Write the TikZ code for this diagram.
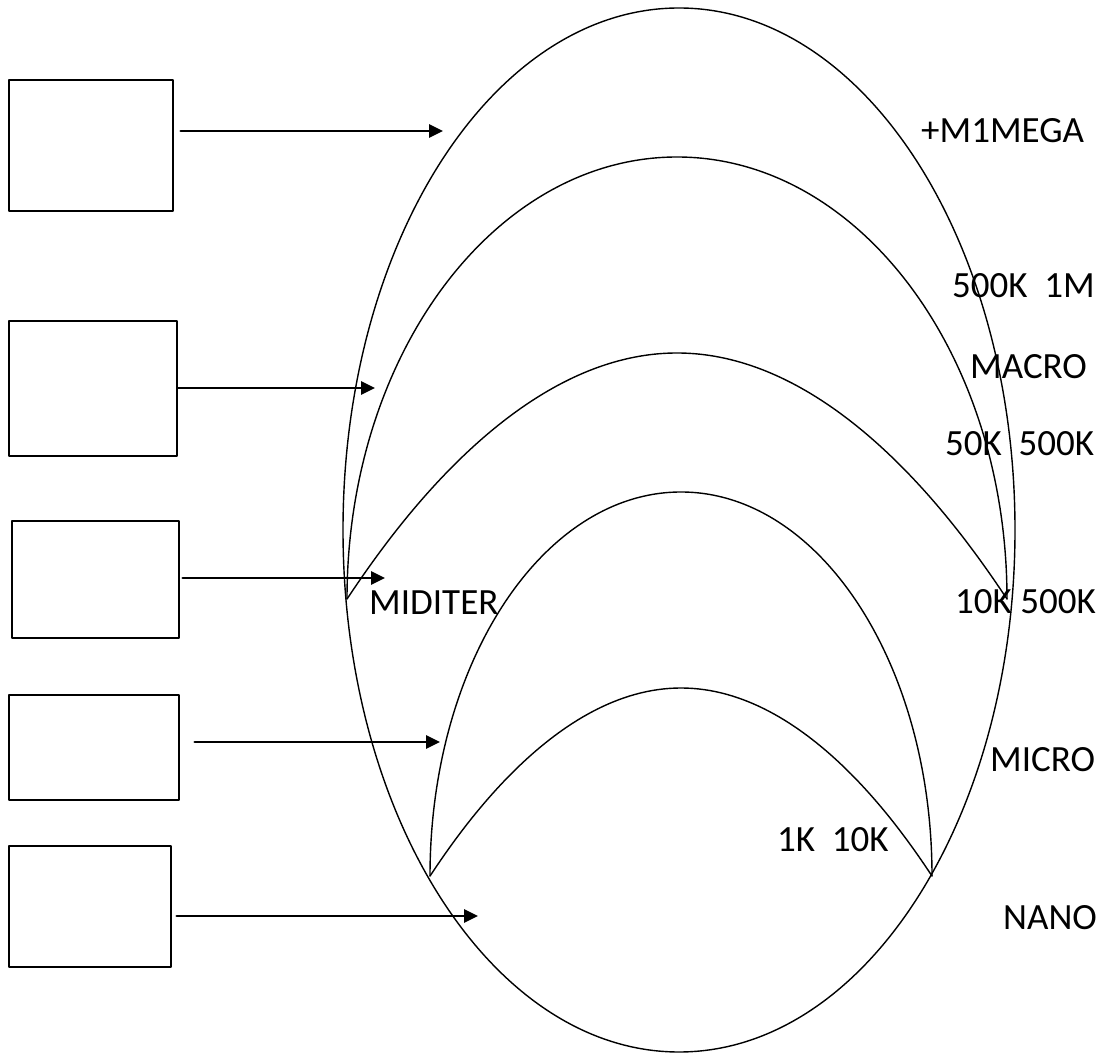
\documentclass[tikz,border=0pt]{standalone}
\usepackage{fontspec}
\setmainfont{Carlito}
\usetikzlibrary{arrows.meta}

\begin{document}
\begin{tikzpicture}[line cap=round,line join=round,>={Triangle[length=14pt,width=13pt]},x=1pt,y=1pt,
	box/.style={draw,line width=1.5pt,inner sep=0pt},
	arr/.style={->,line width=2.8pt},
	lbl/.style={anchor=west,inner sep=0pt,font=\fontsize{37}{44}\selectfont}]
		\useasboundingbox (0,0) rectangle (1106,1055);
		% the nested arcs
		\draw [line width=1.4pt] (679,525) ellipse [x radius=336,y radius=522];
		\draw [line width=1.4pt] (347,456) arc [start angle=180,end angle=0,x radius=330,y radius=442];
		\draw [line width=1.4pt] (347,456) parabola bend (677,702) (1007,456);
		\draw [line width=1.4pt] (430,179) arc [start angle=180,end angle=0,x radius=251,y radius=384];
		\draw [line width=1.4pt] (430,179) parabola bend (681,367) (932,179);
		% boxes on the left
		\node [box,minimum width=164pt,minimum height=131pt] (b1) at (91,909.5) {};
		\node [box,minimum width=168pt,minimum height=135pt] (b2) at (93,666.5) {};
		\node [box,minimum width=167pt,minimum height=117pt] (b3) at (95.5,475.5) {};
		\node [box,minimum width=170pt,minimum height=105pt] (b4) at (94,307.5) {};
		\node [box,minimum width=162pt,minimum height=121pt] (b5) at (90,148.5) {};
		% arrow tips
		\coordinate (t1) at (443,924);
		\coordinate (t2) at (375,667);
		\coordinate (t3) at (385,477);
		\coordinate (t4) at (440,313);
		\coordinate (t5) at (478,139);
		\draw [arr,shorten <=7pt] (b1.east |- t1) -- (t1);
		\draw [arr] (b2.east |- t2) -- (t2);
		\draw [arr,shorten <=3pt] (b3.east |- t3) -- (t3);
		\draw [arr,shorten <=15pt] (b4.east |- t4) -- (t4);
		\draw [arr,shorten <=5pt] (b5.east |- t5) -- (t5);
		% labels
		\node [lbl] (mega) at (921,924) {+M1MEGA};
		\node [lbl] (r1) at (952,769) {500K~~1M};
		\node [lbl] (macro) at (970,688) {MACRO};
		\node [lbl] (r2) at (945,611) {50K~~500K};
		\node [lbl] (r3) at (955,453) {10K 500K};
		\node [lbl] (miditer) at (369,452) {MIDITER};
		\node [lbl] (micro) at (990,295) {MICRO};
		\node [lbl] (r4) at (777,215) {1K~~10K};
		\node [lbl] (nano) at (1003,137) {NANO};
	\end{tikzpicture}
\end{document}
